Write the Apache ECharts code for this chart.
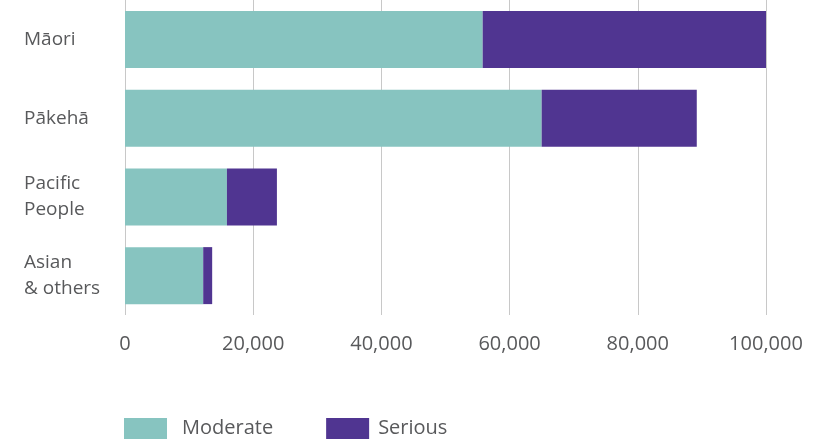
<!DOCTYPE html>
<html>
<head>
<meta charset="utf-8">
<script src="https://cdn.jsdelivr.net/npm/echarts@6/dist/echarts.min.js"></script>
<style>
html,body{margin:0;padding:0;background:#fff;}
#chart{width:830px;height:441px;}
</style>
</head>
<body>
<div id="chart"></div>
<script>
const categories = ['Māori', 'Pākehā', 'Pacific\nPeople', 'Asian\n& others'];
const moderate = [55800, 65000, 15900, 12200];
const serious = [44200, 24200, 7800, 1400];
const seriesNames = ['Moderate', 'Serious'];
const colors = ['#87C4C0', '#503591'];

const chart = echarts.init(document.getElementById('chart'));
const font = '"Open Sans", Roboto, sans-serif';
chart.setOption({
  animation: false,
  textStyle: { fontFamily: font },
  grid: { left: 125, right: 64, top: 0, bottom: 126 },
  legend: {
    left: 119, top: 413,
    itemWidth: 43, itemHeight: 21, itemGap: 53,
    icon: 'rect',
    textStyle: { fontSize: 20, color: '#58595b', fontFamily: font },
    data: [
      { name: seriesNames[0], textStyle: { padding: [0, 0, 0, 10] } },
      { name: seriesNames[1], textStyle: { padding: [0, 0, 0, 4] } }
    ]
  },
  xAxis: {
    type: 'value', min: 0, max: 100000, interval: 20000,
    axisLine: { show: false }, axisTick: { show: false },
    splitLine: { lineStyle: { color: '#c8c8c8', width: 1 } },
    axisLabel: {
      margin: 19, fontSize: 20, color: '#58595b',
      formatter: v => v.toLocaleString('en-US')
    }
  },
  yAxis: {
    type: 'category', data: categories, inverse: true,
    axisLine: { show: false }, axisTick: { show: false },
    axisLabel: { align: 'left', margin: 101, fontSize: 19, color: '#58595b', lineHeight: 26, padding: [3, 0, 0, 0] }
  },
  series: [
    { name: seriesNames[0], type: 'bar', stack: 'a', data: moderate, barWidth: 57, itemStyle: { color: colors[0] } },
    { name: seriesNames[1], type: 'bar', stack: 'a', data: serious, barWidth: 57, itemStyle: { color: colors[1] } }
  ]
});
</script>
</body>
</html>
